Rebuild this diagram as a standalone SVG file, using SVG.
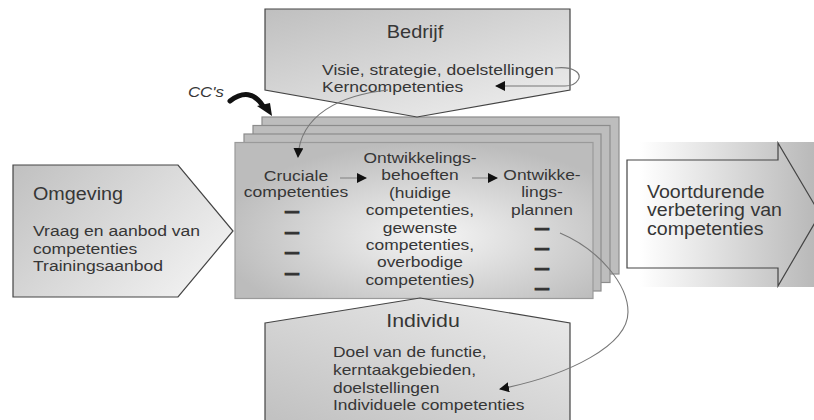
<svg xmlns="http://www.w3.org/2000/svg" width="814" height="420" viewBox="0 0 814 420">
  <defs>
    <style>
      .t { font-family: "Liberation Sans", Arial, sans-serif; fill: #363636; }
      .b { font-size: 15px; }
      .h { font-size: 17.5px; }
      .dash { font-family: "Liberation Sans", Arial, sans-serif; font-size: 18px; font-weight: bold; fill: #333; stroke: #333; stroke-width: 1; }
      .shape { stroke: #444; stroke-width: 1.2; stroke-linejoin: miter; }
      .card { fill: #bdbdbd; stroke: #8c8c8c; stroke-width: 1.2; }
      .link { fill: none; stroke: #777; stroke-width: 1.1; }
      .step { fill: none; stroke: #888; stroke-width: 1.1; }
    </style>
    <linearGradient id="gBedrijf" x1="0" y1="0" x2="0.8" y2="1">
      <stop offset="0" stop-color="#bfbfbf"/>
      <stop offset="1" stop-color="#ececec"/>
    </linearGradient>
    <linearGradient id="gOmgeving" x1="0" y1="0" x2="1" y2="0.6">
      <stop offset="0" stop-color="#c0c0c0"/>
      <stop offset="1" stop-color="#efefef"/>
    </linearGradient>
    <linearGradient id="gIndividu" x1="1" y1="0" x2="0.1" y2="1">
      <stop offset="0" stop-color="#ececec"/>
      <stop offset="1" stop-color="#c2c2c2"/>
    </linearGradient>
    <radialGradient id="gFront" cx="0.55" cy="0.6" r="0.6">
      <stop offset="0" stop-color="#f5f5f5"/>
      <stop offset="1" stop-color="#bcbcbc"/>
    </radialGradient>
    <linearGradient id="gOut" gradientUnits="userSpaceOnUse" x1="640" y1="0" x2="814" y2="0">
      <stop offset="0" stop-color="#ffffff"/>
      <stop offset="1" stop-color="#b9b9b9"/>
    </linearGradient>
    <marker id="tip" viewBox="0 0 10 10" refX="9" refY="5" markerWidth="10" markerHeight="10" markerUnits="userSpaceOnUse" orient="auto">
      <path d="M0,0 L10,5 L0,10 Z" fill="#111"/>
    </marker>
  </defs>

  <rect width="814" height="420" fill="#ffffff"/>

  <!-- stack of development cards -->
  <g id="cards">
    <rect class="card" x="262" y="117" width="357" height="157"/>
    <rect class="card" x="253" y="125.5" width="357" height="157"/>
    <rect class="card" x="244" y="134" width="357" height="157"/>
    <rect x="235" y="142.5" width="358" height="156" fill="url(#gFront)" stroke="#9a9a9a" stroke-width="1.2"/>
  </g>

  <!-- company (top) -->
  <g id="bedrijf">
    <path class="shape" d="M265,9 L570,9 L570,90 L417,117 L265,90 Z" fill="url(#gBedrijf)"/>
    <g transform="translate(415,0) scale(1.14,1)">
      <text class="t h" x="0" y="38" text-anchor="middle">Bedrijf</text>
    </g>
    <g transform="translate(322,0) scale(1.17,1)">
      <text class="t b" x="0" y="75">Visie, strategie, doelstellingen</text>
      <text class="t b" x="0" y="92">Kerncompetenties</text>
    </g>
  </g>

  <!-- environment (left) -->
  <g id="omgeving">
    <path class="shape" d="M13,165 L178,165 L233,231 L178,297 L13,297 Z" fill="url(#gOmgeving)"/>
    <g transform="translate(33,0) scale(1.13,1)">
      <text class="t h" x="0" y="200">Omgeving</text>
    </g>
    <g transform="translate(33,0) scale(1.17,1)">
      <text class="t b" x="0" y="236">Vraag en aanbod van</text>
      <text class="t b" x="0" y="254">competenties</text>
      <text class="t b" x="0" y="271">Trainingsaanbod</text>
    </g>
  </g>

  <!-- individual (bottom) -->
  <g id="individu">
    <path class="shape" d="M265,323 L420,298 L570,323 L570,426 L265,426 Z" fill="url(#gIndividu)"/>
    <g transform="translate(423,0) scale(1.22,1)">
      <text class="t h" x="0" y="327" text-anchor="middle">Individu</text>
    </g>
    <g transform="translate(333,0) scale(1.16,1)">
      <text class="t b" x="0" y="357">Doel van de functie,</text>
      <text class="t b" x="0" y="375">kerntaakgebieden,</text>
      <text class="t b" x="0" y="393">doelstellingen</text>
      <text class="t b" x="0" y="410">Individuele competenties</text>
    </g>
  </g>

  <!-- outcome (right) -->
  <g id="verbetering">
    <rect x="640" y="142" width="174" height="145" fill="url(#gOut)"/>
    <path class="shape" d="M627,160 L778,160 L778,143 L820,214 L778,286 L778,268 L627,268 Z" fill="url(#gOut)"/>
    <g transform="translate(647,0) scale(1.12,1)">
      <text class="t h" x="0" y="198">Voortdurende</text>
      <text class="t h" x="0" y="216.5">verbetering van</text>
      <text class="t h" x="0" y="235">competenties</text>
    </g>
  </g>

  <!-- columns on the front card -->
  <g id="cruciale">
    <g transform="translate(296,0) scale(1.17,1)">
      <text class="t b" x="0" y="181" text-anchor="middle">Cruciale</text>
      <text class="t b" x="0" y="197.5" text-anchor="middle">competenties</text>
    </g>
    <g transform="translate(292,0) scale(1.5,1)">
      <text class="dash" x="0" y="217" text-anchor="middle">–</text>
      <text class="dash" x="0" y="238" text-anchor="middle">–</text>
      <text class="dash" x="0" y="258" text-anchor="middle">–</text>
      <text class="dash" x="0" y="279" text-anchor="middle">–</text>
    </g>
  </g>

  <g id="behoeften">
    <g transform="translate(420,0) scale(1.16,1)">
      <text class="t b" x="0" y="163" text-anchor="middle">Ontwikkelings-</text>
      <text class="t b" x="0" y="180.4" text-anchor="middle">behoeften</text>
      <text class="t b" x="0" y="197.8" text-anchor="middle">(huidige</text>
      <text class="t b" x="0" y="215.2" text-anchor="middle">competenties,</text>
      <text class="t b" x="0" y="232.6" text-anchor="middle">gewenste</text>
      <text class="t b" x="0" y="250" text-anchor="middle">competenties,</text>
      <text class="t b" x="0" y="267.4" text-anchor="middle">overbodige</text>
      <text class="t b" x="0" y="284.8" text-anchor="middle">competenties)</text>
    </g>
  </g>

  <g id="plannen">
    <g transform="translate(542,0) scale(1.16,1)">
      <text class="t b" x="0" y="180" text-anchor="middle">Ontwikke-</text>
      <text class="t b" x="0" y="197.5" text-anchor="middle">lings-</text>
      <text class="t b" x="0" y="215" text-anchor="middle">plannen</text>
    </g>
    <g transform="translate(542,0) scale(1.5,1)">
      <text class="dash" x="0" y="234" text-anchor="middle">–</text>
      <text class="dash" x="0" y="254" text-anchor="middle">–</text>
      <text class="dash" x="0" y="274" text-anchor="middle">–</text>
      <text class="dash" x="0" y="294" text-anchor="middle">–</text>
    </g>
  </g>

  <!-- CC's label with its bold curved arrow -->
  <g id="ccs">
    <g transform="translate(188,0) scale(1.12,1)">
      <text class="t" x="0" y="97" font-size="15" font-style="italic">CC's</text>
    </g>
    <path d="M230,101 Q250,86 263,106" fill="none" stroke="#111" stroke-width="5" stroke-linecap="round"/>
    <path d="M257,106 L270,103 L272,116 Z" fill="#111"/>
  </g>

  <!-- connectors -->
  <g id="connectors">
    <path class="step" d="M340,178 L366,178" marker-end="url(#tip)"/>
    <path class="step" d="M472,178 L497,178" marker-end="url(#tip)"/>
    <path class="link" d="M555,68 C575,66 582,74 578,80 C575,85 570,86 565,86 L496,86" marker-end="url(#tip)"/>
    <path class="link" d="M388,90 C340,95 300,115 298,157" marker-end="url(#tip)"/>
    <path class="link" d="M560,233 C600,250 628,285 628,312 C628,345 570,375 500,389" marker-end="url(#tip)"/>
  </g>
</svg>
